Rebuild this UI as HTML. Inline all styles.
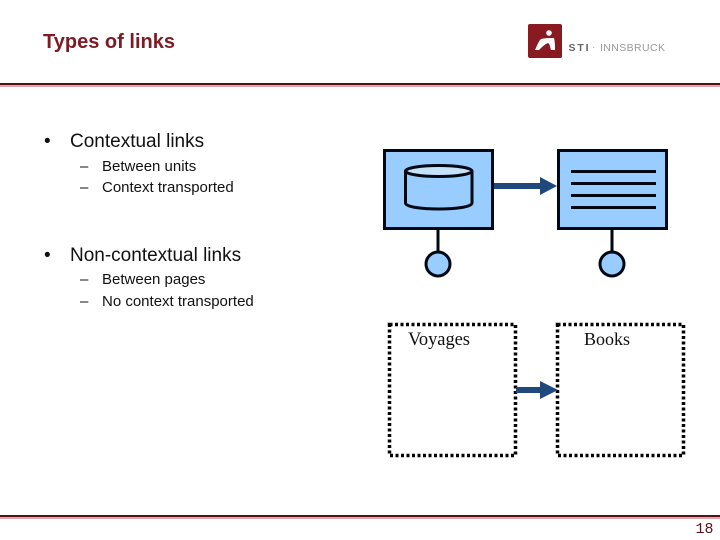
<!DOCTYPE html>
<html><head><meta charset="utf-8">
<style>
html,body{margin:0;padding:0;background:#fff}
#p{position:relative;width:720px;height:540px;overflow:hidden;background:#fff}
svg{position:absolute;left:0;top:0}
</style></head>
<body><div id="p">
<svg width="720" height="540" viewBox="0 0 720 540" xmlns="http://www.w3.org/2000/svg">
<rect x="0" y="83" width="720" height="2" fill="#5c0f16"/>
<rect x="0" y="85" width="720" height="2" fill="#dba9ab"/>
<rect x="0" y="515" width="720" height="2" fill="#5c0f16"/>
<rect x="0" y="517" width="720" height="2" fill="#dba9ab"/>
<text x="43" y="48" font-family="Liberation Sans" font-size="20" font-weight="bold" fill="#7d1a24" textLength="132">Types of links</text>
<rect x="528" y="24" width="34" height="34" rx="2" fill="#8a1a22"/>
<circle cx="549" cy="33" r="2.800" fill="#fff"/>
<path d="M535 50 C537 46 538 42 541 39 C545 38 550 38 554 38 C555 42 555 46 555 50 L551 50 C550 47 550 44 548 43 C545 44 542 47 539 50 Z" fill="#fff"/>
<text x="568.500" y="51" font-family="Liberation Sans" font-size="10.500" font-weight="bold" fill="#666" textLength="20">STI</text>
<text x="592" y="50" font-family="Liberation Sans" font-size="10" fill="#aaa">·</text>
<text x="600" y="51" font-family="Liberation Sans" font-size="10.500" fill="#999" textLength="65">INNSBRUCK</text>
<g font-family="Liberation Sans" fill="#111">
<text x="44" y="147" font-size="19">•</text>
<text x="70" y="147" font-size="19">Contextual links</text>
<text x="80" y="171" font-size="15">–</text>
<text x="102" y="171" font-size="15">Between units</text>
<text x="80" y="192" font-size="15">–</text>
<text x="102" y="192" font-size="15">Context transported</text>
<text x="44" y="261" font-size="19">•</text>
<text x="70" y="261" font-size="19">Non-contextual links</text>
<text x="80" y="284" font-size="15">–</text>
<text x="102" y="284" font-size="15">Between pages</text>
<text x="80" y="306" font-size="15">–</text>
<text x="102" y="306" font-size="15">No context transported</text>
</g>
<rect x="384.500" y="150.500" width="108" height="78" fill="#99ccff" stroke="#000814" stroke-width="3"/>
<rect x="558.500" y="150.500" width="108" height="78" fill="#99ccff" stroke="#000814" stroke-width="3"/>
<path d="M405.500 171 V203 C405.500 211 472 211 472 203 V171" fill="#99ccff" stroke="#000814" stroke-width="3"/>
<ellipse cx="438.750" cy="171" rx="33.250" ry="5.500" fill="#c6e2fb" stroke="#000814" stroke-width="3"/>
<g stroke="#000814" stroke-width="3">
<line x1="571" y1="171.500" x2="656" y2="171.500"/>
<line x1="571" y1="183.500" x2="656" y2="183.500"/>
<line x1="571" y1="195.500" x2="656" y2="195.500"/>
<line x1="571" y1="207.500" x2="656" y2="207.500"/>
<line x1="438" y1="229" x2="438" y2="252"/>
<line x1="612" y1="229" x2="612" y2="252"/>
</g>
<circle cx="438" cy="264" r="12" fill="#99ccff" stroke="#000814" stroke-width="3"/>
<circle cx="612" cy="264" r="12" fill="#99ccff" stroke="#000814" stroke-width="3"/>
<rect x="494" y="183" width="48" height="6" fill="#1f497d"/>
<path d="M540 177 L557 186 L540 195 Z" fill="#1f497d"/>
<rect x="389.500" y="324.500" width="126" height="131" fill="none" stroke="#000" stroke-width="3.500" stroke-dasharray="3 2.500"/>
<rect x="557.500" y="324.500" width="126" height="131" fill="none" stroke="#000" stroke-width="3.500" stroke-dasharray="3 2.500"/>
<rect x="516" y="387" width="26" height="6" fill="#1f497d"/>
<path d="M540 381 L558 390 L540 399 Z" fill="#1f497d"/>
<text x="408" y="345" font-family="Liberation Serif" font-size="18.500" fill="#111" textLength="62">Voyages</text>
<text x="584" y="345" font-family="Liberation Serif" font-size="18" fill="#111">Books</text>
<text x="695.500" y="533" font-family="Liberation Mono" font-size="15" fill="#5c0f16">18</text>
</svg>
</div></body></html>
